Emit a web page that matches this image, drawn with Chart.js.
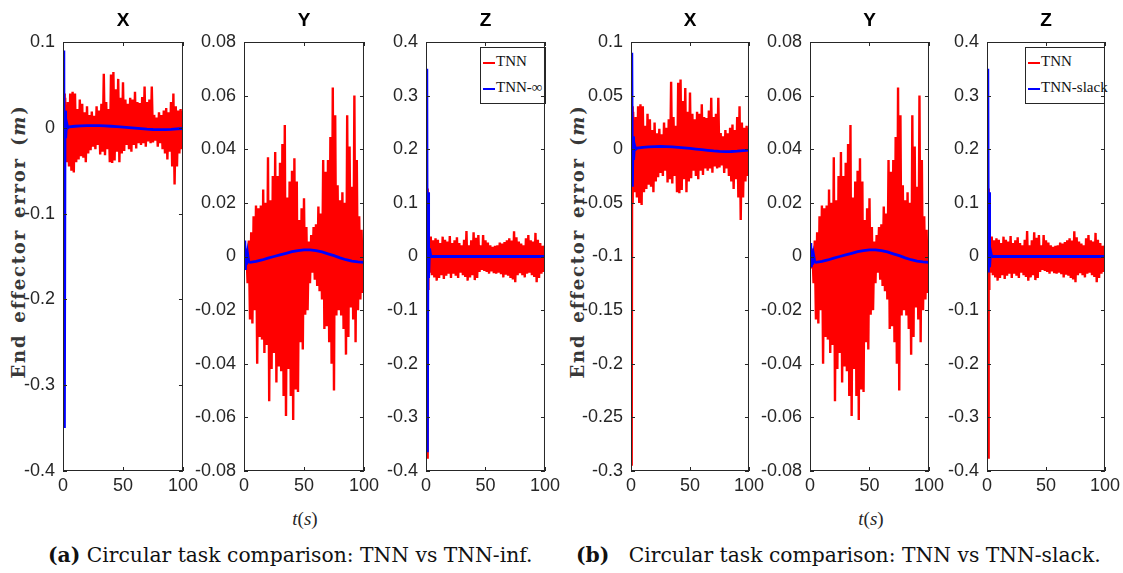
<!DOCTYPE html>
<html>
<head>
<meta charset="utf-8">
<script src="https://cdn.jsdelivr.net/npm/chart.js@4.4.1/dist/chart.umd.min.js"></script>
<style>
  body { margin: 0; background: #fff; }
  #page { position: relative; width: 1123px; height: 573px; overflow: hidden; background: #fff; }
  canvas { position: absolute; top: 0; }
  .ylab {
    position: absolute; top: 243px; width: 360px; margin-left: -180px; margin-top: -12px;
    transform: rotate(-90deg); text-align: center; white-space: nowrap;
    font: bold 18px "DejaVu Serif", serif; letter-spacing: 1.8px; word-spacing: 3px; color: #383838;
  }
  .tlab { position: absolute; top: 508px; width: 60px; margin-left: -30px; text-align: center;
    font: 19px "Liberation Serif", serif; color: #262626; }
  .cap { position: absolute; top: 543px; white-space: nowrap; font: 20.3px "DejaVu Serif", serif; color: #111; }
  .legend { position: absolute; top: 47px; height: 55px; border: 1px solid #262626; background: #fff;
    font: 15px "Liberation Serif", serif; color: #111; }
  .legend div { position: absolute; left: 2px; white-space: nowrap; }
  .legend i { display: inline-block; width: 12px; height: 2px; vertical-align: middle; margin-right: 1px; }
</style>
</head>
<body>
<div id="page">
  <div class="ylab" style="left:18px">End effector error (<i>m</i>)</div>
  <div class="ylab" style="left:577px">End effector error (<i>m</i>)</div>
  <div class="tlab" style="left:305px"><i>t</i>(<i>s</i>)</div>
  <div class="tlab" style="left:871px"><i>t</i>(<i>s</i>)</div>
  <div class="cap" style="left:48px"><b>(a)</b> Circular task comparison: TNN vs TNN-inf.</div>
  <div class="cap" style="left:576px"><b>(b)</b>&nbsp;&nbsp; Circular task comparison: TNN vs TNN-slack.</div>
  <div class="legend" style="left:480px;width:64px">
    <div style="top:5px"><i style="background:#f00"></i>TNN</div>
    <div style="top:31px"><i style="background:#00f"></i>TNN-∞</div>
  </div>
  <div class="legend" style="left:1025px;width:78px">
    <div style="top:5px"><i style="background:#f00"></i>TNN</div>
    <div style="top:31px"><i style="background:#00f"></i>TNN-slack</div>
  </div>
</div>
<script>
// ── ticks ──────────────────────────────────────────────────────────────────
const timeTicks = [0, 50, 100];
const ticksXa = [-0.4, -0.3, -0.2, -0.1, 0, 0.1];
const ticksXb = [-0.3, -0.25, -0.2, -0.15, -0.1, -0.05, 0, 0.05, 0.1];
const ticksY = [-0.08, -0.06, -0.04, -0.02, 0, 0.02, 0.04, 0.06, 0.08];
const ticksZ = [-0.4, -0.3, -0.2, -0.1, 0, 0.1, 0.2, 0.3, 0.4];

// ── TNN (red): start transient + peak / trough envelope ──
const startT = [0, 0.6, 1.0, 1.4, 1.8];
const tnnXStart = [0, -0.295, 0.04, -0.05, 0.035];
const tnnYStart = [0, 0.004, -0.004, 0.003, -0.003];
const tnnZStart = [0, 0.33, -0.375, 0.127, -0.06];

const peakT = [2, 4, 6, 8, 10, 12, 14, 16, 18, 20, 22, 24, 26, 28, 30, 32, 34, 36, 38, 40, 42, 44, 46, 48, 50,
  52, 54, 56, 58, 60, 62, 64, 66, 68, 70, 72, 74, 76, 78, 80, 82, 84, 86, 88, 90, 92, 94, 96, 98, 100];
const troughT = [3, 5, 7, 9, 11, 13, 15, 17, 19, 21, 23, 25, 27, 29, 31, 33, 35, 37, 39, 41, 43, 45, 47, 49,
  51, 53, 55, 57, 59, 61, 63, 65, 67, 69, 71, 73, 75, 77, 79, 81, 83, 85, 87, 89, 91, 93, 95, 97, 99];

const tnnXPeaks = [0.035, 0.03, 0.04, 0.042, 0.04, 0.022, 0.033, 0.028, 0.018, 0.025, 0.015, 0.019, 0.014, 0.025,
  0.02, 0.028, 0.063, 0.03, 0.022, 0.062, 0.065, 0.045, 0.057, 0.035, 0.053, 0.033, 0.028, 0.035, 0.033, 0.042,
  0.03, 0.029, 0.036, 0.048, 0.03, 0.033, 0.048, 0.015, 0.012, 0.018, 0.015, 0.02, 0.023, 0.018, 0.03, 0.04,
  0.025, 0.02, 0.022, 0.02];
const tnnXTroughs = [-0.04, -0.045, -0.05, -0.052, -0.04, -0.037, -0.033, -0.035, -0.04, -0.03, -0.026, -0.022,
  -0.025, -0.02, -0.031, -0.028, -0.032, -0.025, -0.04, -0.041, -0.038, -0.028, -0.04, -0.03, -0.027, -0.02,
  -0.025, -0.028, -0.02, -0.024, -0.018, -0.02, -0.018, -0.022, -0.016, -0.018, -0.017, -0.015, -0.022, -0.018,
  -0.025, -0.03, -0.037, -0.028, -0.045, -0.066, -0.045, -0.03, -0.025];

const tnnYPeaks = [0.003, 0.006, 0.009, 0.015, 0.019, 0.018, 0.019, 0.025, 0.02, 0.037, 0.021, 0.03, 0.039, 0.03,
  0.035, 0.042, 0.049, 0.022, 0.028, 0.032, 0.0366, 0.028, 0.0136, 0.018, 0.0217, 0.011, 0.0056, 0.008, 0.011,
  0.012, 0.0186, 0.016, 0.036, 0.0316, 0.036, 0.0446, 0.063, 0.0527, 0.0266, 0.021, 0.024, 0.02, 0.0527, 0.041,
  0.026, 0.06, 0.036, 0.015, 0.01, 0.006];
const tnnYTroughs = [-0.01, -0.0235, -0.025, -0.02, -0.04, -0.03, -0.031, -0.036, -0.033, -0.054, -0.042, -0.036,
  -0.047, -0.041, -0.0428, -0.052, -0.0595, -0.042, -0.052, -0.061, -0.0496, -0.0505, -0.032, -0.0347, -0.0217,
  -0.02, -0.01, -0.006, -0.0087, -0.011, -0.013, -0.016, -0.027, -0.026, -0.032, -0.04, -0.05, -0.022, -0.02,
  -0.022, -0.027, -0.0366, -0.03, -0.019, -0.0235, -0.032, -0.02, -0.016, -0.0136];

const tnnZPeaks = [0.03, 0.037, 0.03, 0.034, 0.031, 0.025, 0.037, 0.031, 0.028, 0.038, 0.025, 0.03, 0.036, 0.025,
  0.021, 0.031, 0.0475, 0.021, 0.03, 0.045, 0.035, 0.04, 0.021, 0.04, 0.03, 0.026, 0.021, 0.018, 0.02, 0.021,
  0.026, 0.024, 0.027, 0.03, 0.034, 0.03, 0.047, 0.036, 0.028, 0.024, 0.021, 0.034, 0.04, 0.03, 0.028, 0.044,
  0.031, 0.025, 0.02, 0.021];
const tnnZTroughs = [-0.03, -0.035, -0.039, -0.045, -0.04, -0.035, -0.042, -0.036, -0.032, -0.04, -0.032, -0.036,
  -0.04, -0.03, -0.035, -0.038, -0.045, -0.039, -0.035, -0.044, -0.04, -0.029, -0.025, -0.027, -0.029, -0.032,
  -0.028, -0.031, -0.032, -0.03, -0.033, -0.039, -0.034, -0.036, -0.04, -0.043, -0.048, -0.035, -0.031, -0.035,
  -0.039, -0.032, -0.03, -0.035, -0.038, -0.048, -0.04, -0.032, -0.029];

// ── TNN-inf / TNN-slack (blue) ─────────────────────────────────────────────
const blueT = [0, 0.7, 1.2, 1.7, 2.2, 3, 4, 5, 10, 15, 20, 25, 30, 35, 40, 45, 50, 55, 60, 65, 70, 75, 80, 85,
  90, 95, 100];
const infX = [0, 0.09, -0.35, 0.02, -0.012, 0.006, 0, 0.001, 0.0018, 0.0022, 0.0025, 0.0026, 0.0025, 0.0022,
  0.0018, 0.0013, 0.0008, 0.0002, -0.0004, -0.001, -0.0016, -0.002, -0.0022, -0.0021, -0.0018, -0.0013, -0.0008];
const slackX = [0, 0.09, -0.035, 0.012, -0.01, 0.004, 0, 0.001, 0.0018, 0.0022, 0.0025, 0.0026, 0.0025, 0.0022,
  0.0018, 0.0013, 0.0008, 0.0002, -0.0004, -0.001, -0.0016, -0.002, -0.0022, -0.0021, -0.0018, -0.0013, -0.0008];
const infY = [0, 0.006, -0.005, 0.002, -0.003, 0.001, -0.002, -0.0022, -0.0018, -0.0013, -0.0006, 0, 0.0006,
  0.0012, 0.0018, 0.0022, 0.0025, 0.0025, 0.0022, 0.0017, 0.001, 0.0003, -0.0005, -0.0012, -0.0017, -0.002, -0.0022];
const slackY = [0, 0.005, -0.004, 0.002, -0.003, 0.0005, -0.002, -0.0022, -0.0018, -0.0013, -0.0006, 0, 0.0006,
  0.0012, 0.0018, 0.0022, 0.0025, 0.0025, 0.0022, 0.0017, 0.001, 0.0003, -0.0005, -0.0012, -0.0017, -0.002, -0.0022];
const infZ = [0, 0.35, -0.365, 0.12, -0.04, 0.015, 0, 0, 0, 0, 0, 0, 0, 0, 0, 0, 0, 0, 0, 0, 0, 0, 0, 0, 0, 0, 0];
const slackZ = [0, 0.35, -0.03, 0.12, -0.02, 0.01, 0, 0, 0, 0, 0, 0, 0, 0, 0, 0, 0, 0, 0, 0, 0, 0, 0, 0, 0, 0, 0];

// ── helpers ────────────────────────────────────────────────────────────────
function tnnPoints(start, peaks, troughs) {
  const pts = startT.map((t, i) => ({ x: t, y: start[i] }));
  peakT.forEach((t, i) => {
    pts.push({ x: t, y: peaks[i] });
    if (i < troughT.length) pts.push({ x: troughT[i], y: troughs[i] });
  });
  return pts;
}
const bluePoints = (vals) => blueT.map((t, i) => ({ x: t, y: vals[i] }));

const INK = "#262626";
const tickFont = { family: "'Liberation Sans Narrow', 'Liberation Sans', Arial, sans-serif", size: 18 };
const Y_W = 60, PAD_R = 16, X_H = 29;

// MATLAB-style box with inward ticks on all four sides
const boxTicks = {
  id: "boxTicks",
  afterDatasetsDraw(chart) {
    const { ctx, chartArea: a, scales: { x, y } } = chart;
    ctx.save();
    ctx.strokeStyle = INK;
    ctx.lineWidth = 1;
    ctx.strokeRect(a.left + 0.5, a.top + 0.5, a.right - a.left - 1, a.bottom - a.top - 1);
    ctx.beginPath();
    y.ticks.forEach((t) => {
      const py = Math.round(y.getPixelForValue(t.value)) + 0.5;
      ctx.moveTo(a.left, py); ctx.lineTo(a.left + 4, py);
      ctx.moveTo(a.right, py); ctx.lineTo(a.right - 4, py);
    });
    x.ticks.forEach((t) => {
      const px = Math.round(x.getPixelForValue(t.value)) + 0.5;
      ctx.moveTo(px, a.bottom); ctx.lineTo(px, a.bottom - 4);
      ctx.moveTo(px, a.top); ctx.lineTo(px, a.top + 4);
    });
    ctx.stroke();
    ctx.restore();
  },
};

const panels = [
  { left: 63, right: 186, title: "X", ticks: ticksXa, red: tnnPoints(tnnXStart, tnnXPeaks, tnnXTroughs), blue: infX },
  { left: 244, right: 367, title: "Y", ticks: ticksY, red: tnnPoints(tnnYStart, tnnYPeaks, tnnYTroughs), blue: infY },
  { left: 426, right: 548, title: "Z", ticks: ticksZ, red: tnnPoints(tnnZStart, tnnZPeaks, tnnZTroughs), blue: infZ },
  { left: 631, right: 752, title: "X", ticks: ticksXb, red: tnnPoints(tnnXStart, tnnXPeaks, tnnXTroughs), blue: slackX },
  { left: 810, right: 932, title: "Y", ticks: ticksY, red: tnnPoints(tnnYStart, tnnYPeaks, tnnYTroughs), blue: slackY },
  { left: 987, right: 1108, title: "Z", ticks: ticksZ, red: tnnPoints(tnnZStart, tnnZPeaks, tnnZTroughs), blue: slackZ },
];

const page = document.getElementById("page");
panels.forEach((p) => {
  const cv = document.createElement("canvas");
  const w = p.right - p.left + Y_W + PAD_R;
  cv.width = w; cv.height = 471 + X_H;
  cv.style.left = (p.left - Y_W) + "px";
  cv.style.width = w + "px"; cv.style.height = (471 + X_H) + "px";
  page.appendChild(cv);

  new Chart(cv, {
    type: "line",
    data: {
      // first dataset is painted last, so the blue line sits on top
      datasets: [
        { data: bluePoints(p.blue), borderColor: "#0000ff", borderWidth: 2.8, pointRadius: 0 },
        { data: p.red, borderColor: "#ff0000", borderWidth: 2.4, pointRadius: 0 },
      ],
    },
    options: {
      responsive: false,
      animation: false,
      events: [],
      layout: { padding: { top: 0, left: 0, right: PAD_R, bottom: 0 } },
      elements: { line: { tension: 0, borderCapStyle: "butt", borderJoinStyle: "miter" } },
      plugins: {
        legend: { display: false },
        tooltip: { enabled: false },
        title: {
          display: true, text: p.title, fullSize: false, color: "#000",
          font: { family: tickFont.family, size: 19, weight: "bold", lineHeight: 1.2 },
          padding: { top: 9.5, bottom: 9.7 },
        },
      },
      scales: {
        x: {
          type: "linear", min: 0, max: 100,
          afterBuildTicks: (s) => { s.ticks = timeTicks.map((v) => ({ value: v })); },
          afterFit: (s) => { s.height = X_H; },
          grid: { display: false, drawTicks: false },
          border: { display: false },
          ticks: { color: INK, font: tickFont, padding: 4, maxRotation: 0, autoSkip: false },
        },
        y: {
          type: "linear", min: p.ticks[0], max: p.ticks[p.ticks.length - 1],
          afterBuildTicks: (s) => { s.ticks = p.ticks.map((v) => ({ value: v })); },
          afterFit: (s) => { s.width = Y_W; },
          grid: { display: false, drawTicks: false },
          border: { display: false },
          ticks: { color: INK, font: tickFont, padding: 8, autoSkip: false, callback: (v) => String(v) },
        },
      },
    },
    plugins: [boxTicks],
  });
});
</script>
</body>
</html>
